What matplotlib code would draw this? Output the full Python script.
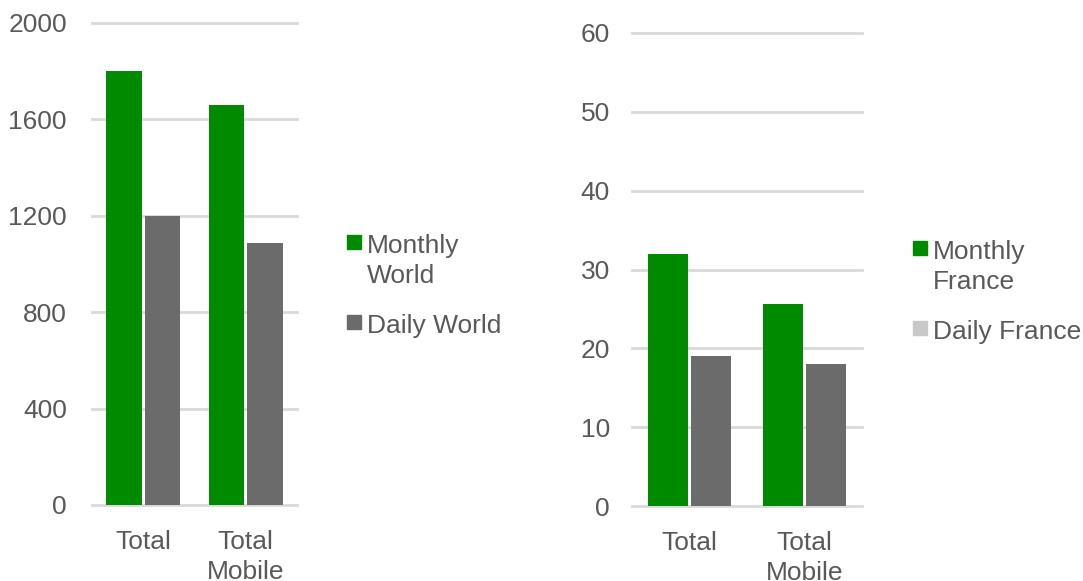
import matplotlib.pyplot as plt
from matplotlib.patches import Rectangle
import numpy as np

plt.rcParams['font.family'] = ['Liberation Sans', 'DejaVu Sans']

# donnees
categories = ['Total', 'Total\nMobile']
monthly_world = [1800, 1658]
daily_world = [1200, 1087]
monthly_france = [32, 25.6]
daily_france = [19, 18]
world_ticks = [0, 400, 800, 1200, 1600, 2000]
france_ticks = [0, 10, 20, 30, 40, 50, 60]

GREEN = '#008a00'
GRAY = '#6b6b6b'
LIGHT = '#c8c8c8'
TXT = '#595959'
GRID = '#d9d9d9'
W, H = 1083, 581
FS = 19

fig = plt.figure(figsize=(W / 100, H / 100), dpi=100)


def px_axes(x0, y0, x1, y1):
    return fig.add_axes([x0 / W, 1 - y1 / H, (x1 - x0) / W, (y1 - y0) / H])


def draw(ax, monthly, daily, ticks, width, ypad):
    x = np.arange(len(categories))
    off = width / 2 + 0.015
    ax.bar(x - off, monthly, width, color=GREEN, zorder=3)
    ax.bar(x + off, daily, width, color=GRAY, zorder=3)
    ax.set_xlim(-0.5, 1.5)
    ax.set_ylim(0, ticks[-1])
    ax.set_yticks(ticks)
    ax.set_xticks(x)
    ax.set_xticklabels(categories, linespacing=1.3)
    ax.grid(axis='y', color=GRID, linewidth=2, zorder=0)
    for g in ax.get_ygridlines():
        g.set_clip_on(False)
    for s in ax.spines.values():
        s.set_visible(False)
    ax.tick_params(length=0, labelsize=FS, labelcolor=TXT)
    ax.tick_params(axis='y', pad=ypad)
    ax.tick_params(axis='x', pad=18)


def legend(x, y, entries):
    # carre + texte, y = haut du carre en pixels
    for label, color in entries:
        fig.patches.append(Rectangle((x / W, 1 - (y + 14) / H), 14 / W, 14 / H,
                                     transform=fig.transFigure, color=color))
        fig.text((x + 20) / W, 1 - (y - 1) / H, label, fontsize=FS, color=TXT,
                 va='top', ha='left', linespacing=1.3)
        y += 80


ax1 = px_axes(92, 23, 297, 505)
draw(ax1, monthly_world, daily_world, world_ticks, 0.346, 18)
legend(347, 235, [('Monthly\nWorld', GREEN), ('Daily World', GRAY)])

ax2 = px_axes(632, 33, 862, 506)
draw(ax2, monthly_france, daily_france, france_ticks, 0.348, 16)
legend(913, 241, [('Monthly\nFrance', GREEN), ('Daily France', LIGHT)])

plt.savefig('out.png', dpi=100)
